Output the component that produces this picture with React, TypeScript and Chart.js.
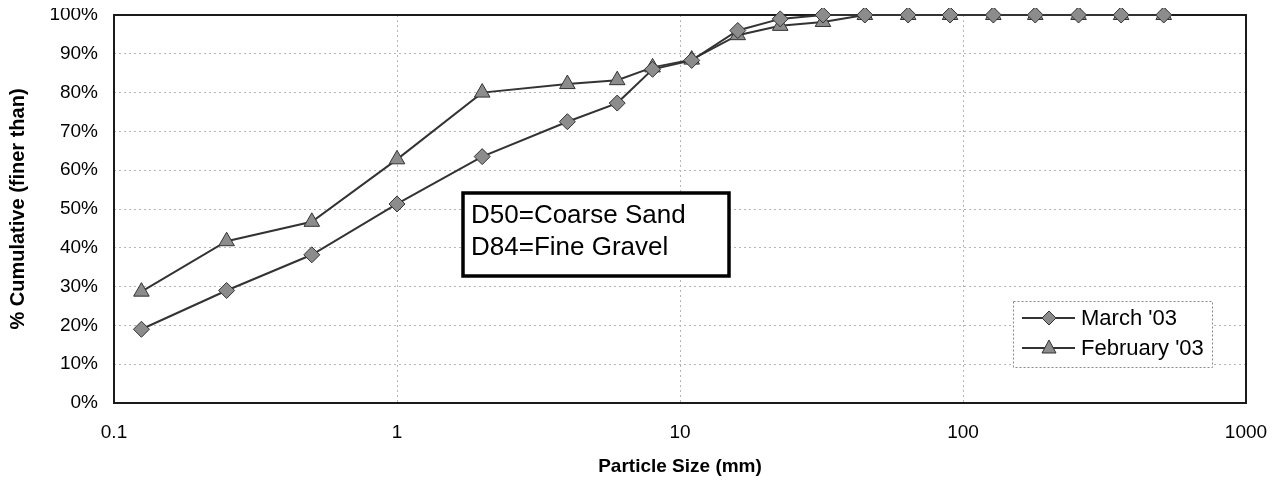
import React, { useEffect, useRef } from "react";
import { Chart, registerables } from "chart.js";

Chart.register(...registerables);

const sizesMm = [0.125, 0.25, 0.5, 1, 2, 4, 6, 8, 11, 16, 22.6, 32, 45, 64, 90, 128, 180, 256, 362, 512];
const marchPct = [19, 29, 38.2, 51.3, 63.5, 72.5, 77.3, 86, 88.3, 96, 99, 100, 100, 100, 100, 100, 100, 100, 100, 100];
const februaryPct = [28.7, 41.7, 46.7, 62.8, 80, 82.2, 83.2, 86.5, 88.5, 94.8, 97.2, 98.2, 100, 100, 100, 100, 100, 100, 100, 100];
const xTickValues = [0.1, 1, 10, 100, 1000];
const seriesNames = ["March '03", "February '03"];
const noteLines = ["D50=Coarse Sand", "D84=Fine Gravel"];

const FONT = "Arial, 'Liberation Sans', sans-serif";
const LINE = "#333333";
const FILL = "#8c8c8c";

const frame = {
  id: "frame",
  beforeDatasetsDraw(chart: any) {
    const { ctx, chartArea } = chart;
    const { left, right, top, bottom } = chartArea;
    ctx.save();
    ctx.strokeStyle = "#1a1a1a";
    ctx.lineWidth = 2;
    ctx.strokeRect(left, top, right - left, bottom - top);
    ctx.restore();
  },
};

const notes = {
  id: "notes",
  afterDraw(chart: any) {
    const { ctx } = chart;
    ctx.save();
    // annotation box
    const bx = 463, by = 193, bw = 266, bh = 83;
    ctx.fillStyle = "#fff";
    ctx.fillRect(bx, by, bw, bh);
    ctx.strokeStyle = "#000";
    ctx.lineWidth = 3.5;
    ctx.strokeRect(bx, by, bw, bh);
    ctx.fillStyle = "#000";
    ctx.font = "26px " + FONT;
    ctx.textBaseline = "middle";
    ctx.textAlign = "left";
    ctx.fillText(noteLines[0], bx + 8, by + 23);
    ctx.fillText(noteLines[1], bx + 8, by + 55);

    // legend
    const lx = 1013, ly = 301, lw = 199, lh = 66;
    ctx.fillStyle = "#fff";
    ctx.fillRect(lx, ly, lw, lh);
    ctx.setLineDash([2, 2]);
    ctx.strokeStyle = "#888";
    ctx.lineWidth = 1;
    ctx.strokeRect(lx + 0.5, ly + 0.5, lw, lh);
    ctx.setLineDash([]);
    const rows = [ly + 17, ly + 47];
    chart.data.datasets.forEach((ds: any, i: number) => {
      const y = rows[i];
      ctx.strokeStyle = LINE;
      ctx.lineWidth = 2;
      ctx.beginPath();
      ctx.moveTo(lx + 9, y);
      ctx.lineTo(lx + 62, y);
      ctx.stroke();
      ctx.fillStyle = FILL;
      ctx.strokeStyle = LINE;
      ctx.lineWidth = 1;
      const cx = lx + 36;
      ctx.beginPath();
      if (ds.pointStyle === "rectRot") {
        ctx.moveTo(cx, y - 7);
        ctx.lineTo(cx + 7, y);
        ctx.lineTo(cx, y + 7);
        ctx.lineTo(cx - 7, y);
      } else {
        ctx.moveTo(cx, y - 8);
        ctx.lineTo(cx + 7, y + 5);
        ctx.lineTo(cx - 7, y + 5);
      }
      ctx.closePath();
      ctx.fill();
      ctx.stroke();
      ctx.fillStyle = "#000";
      ctx.font = "22px " + FONT;
      ctx.textAlign = "left";
      ctx.textBaseline = "middle";
      ctx.fillText(ds.label, lx + 68, y + 1);
    });
    ctx.restore();
  },
};

export default function App() {
  const ref = useRef<HTMLCanvasElement>(null);
  useEffect(() => {
    if (!ref.current) return;
    const mk = (vals: number[]) => sizesMm.map((x, i) => ({ x, y: vals[i] }));
    const chart = new Chart(ref.current, {
      type: "line",
      data: {
        datasets: [
          {
            label: seriesNames[0],
            data: mk(marchPct),
            borderColor: LINE,
            borderWidth: 2,
            pointStyle: "rectRot",
            pointRadius: 8,
            pointBackgroundColor: FILL,
            pointBorderColor: LINE,
            pointBorderWidth: 1,
            tension: 0,
            clip: false,
          },
          {
            label: seriesNames[1],
            data: mk(februaryPct),
            borderColor: LINE,
            borderWidth: 2,
            pointStyle: "triangle",
            pointRadius: 9,
            pointBackgroundColor: FILL,
            pointBorderColor: LINE,
            pointBorderWidth: 1,
            tension: 0,
            clip: false,
          },
        ],
      },
      options: {
        animation: false,
        responsive: false,
        maintainAspectRatio: false,
        layout: { padding: { top: 15, right: 33, left: 0, bottom: 0 } },
        plugins: { legend: { display: false }, tooltip: { enabled: false } },
        scales: {
          x: {
            type: "logarithmic",
            min: 0.1,
            max: 1000,
            afterBuildTicks: (scale: any) => {
              scale.ticks = xTickValues.map((v) => ({ value: v }));
            },
            afterFit: (scale: any) => {
              scale.height = 81;
              scale.paddingLeft = 0;
              scale.paddingRight = 0;
            },
            ticks: {
              autoSkip: false,
              maxRotation: 0,
              padding: 18,
              color: "#000",
              font: { family: FONT, size: 19 },
              callback: (v: any) => String(v),
            },
            grid: { color: "#b5b5b5", lineWidth: 1, drawTicks: false },
            border: { display: false, dash: [2, 3] },
            title: {
              display: true,
              text: "Particle Size (mm)",
              color: "#000",
              font: { family: FONT, size: 19, weight: "bold" },
              padding: { top: 4, bottom: 6 },
            },
          },
          y: {
            min: 0,
            max: 100,
            afterFit: (scale: any) => {
              scale.width = 114;
              scale.paddingTop = 0;
              scale.paddingBottom = 0;
            },
            ticks: {
              stepSize: 10,
              padding: 16,
              color: "#000",
              font: { family: FONT, size: 19 },
              callback: (v: any) => v + "%",
            },
            grid: { color: "#b5b5b5", lineWidth: 1, drawTicks: false },
            border: { display: false, dash: [2, 3] },
            title: {
              display: true,
              text: "% Cumulative (finer than)",
              color: "#000",
              font: { family: FONT, size: 20, weight: "bold" },
              padding: { top: 6, bottom: 0 },
            },
          },
        },
      },
      plugins: [frame, notes],
    } as any);
    return () => chart.destroy();
  }, []);
  return (
    <div style={{ margin: -8, width: 1279, height: 484, background: "#fff" }}>
      <canvas ref={ref} width={1279} height={484} style={{ display: "block" }} />
    </div>
  );
}
